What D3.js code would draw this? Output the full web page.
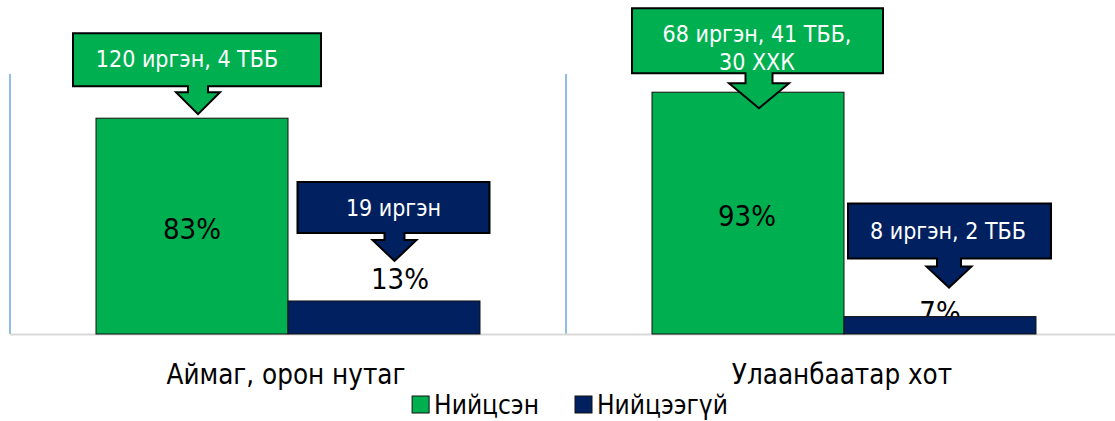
<!DOCTYPE html>
<html>
<head>
<meta charset="utf-8">
<script src="https://cdn.jsdelivr.net/npm/d3@7"></script>
<style>
  body { margin: 0; background: #fff; }
  svg text { font-family: "DejaVu Sans Condensed", "DejaVu Sans", sans-serif; font-stretch: condensed; }
</style>
</head>
<body>
<svg width="1115" height="421"></svg>
<script>
// chart values
var groups = ["Аймаг, орон нутаг", "Улаанбаатар хот"];
var series = ["Нийцсэн", "Нийцээгүй"];
var compliant = [0.83, 0.93];
var nonCompliant = [0.127, 0.067];
var compliantNotes = [["120 иргэн, 4 ТББ"], ["68 иргэн, 41 ТББ,", "30 ХХК"]];
var nonCompliantNotes = [["19 иргэн"], ["8 иргэн, 2 ТББ"]];

var colors = {"Нийцсэн": "#00B050", "Нийцээгүй": "#002060"};

var chart_data = [];
groups.forEach(function(g, i){
  chart_data.push({group: g, series: series[0], value: compliant[i], note: compliantNotes[i]});
  chart_data.push({group: g, series: series[1], value: nonCompliant[i], note: nonCompliantNotes[i]});
});

// hand placed callouts and labels (same order as chart_data)
// box: [dx from bar centre, dy from bar top, width, height], text: [dx, baseline from box top]
// arrow: [dx, shaft width, head width, shaft height, head height]
var calloutLayout = [
  {box: [-119, -85, 248, 53], text: [-5, 34], arrow: [6, 20, 44, 6, 22]},
  {box: [-86.5, -119, 192, 51], text: [9.5, 34], arrow: [10.5, 20, 44, 7, 21]},
  {box: [-116, -84, 251, 65], text: [9, 34], arrow: [11, 27, 60, 10, 25]},
  {box: [-92, -113, 203, 55], text: [8, 35], arrow: [9, 24, 45, 8, 21]}
];
var labelLayout = [
  {inside: true, dx: 0},
  {inside: false, dx: 16, dy: -12},
  {inside: true, dx: -1},
  {inside: false, dx: 0, dy: 5}
];

var svg = d3.select("svg"),
    plot = {left: 10, right: 1122, top: 74, bottom: 334};

var x0 = d3.scaleBand().domain(groups).range([plot.left, plot.right]);
var x1 = d3.scaleBand().domain(series).range([0, x0.bandwidth()])
    .paddingInner(0).paddingOuter(0.448);
var y = d3.scaleLinear().domain([0, 1]).range([plot.bottom, plot.top]);

function barX(d){ return x0(d.group) + x1(d.series); }
function barCx(d){ return barX(d) + x1.bandwidth() / 2; }

// group separators
svg.append("g").selectAll("line").data(groups.concat(["end"])).enter().append("line")
    .attr("x1", function(d, i){ return plot.left + i * x0.step(); })
    .attr("x2", function(d, i){ return plot.left + i * x0.step(); })
    .attr("y1", y(1))
    .attr("y2", y(0))
    .attr("stroke", "#4A90D9")
    .attr("stroke-width", 1.2);

svg.append("line")
    .attr("x1", plot.left).attr("x2", 1115)
    .attr("y1", y(0) + 0.5).attr("y2", y(0) + 0.5)
    .attr("stroke", "#D9D9D9")
    .attr("stroke-width", 2);

var fmt = d3.format(".0%");

// outside labels go under the bars (the 7% one is partly hidden)
svg.selectAll(".outside-label").data(chart_data).enter()
  .filter(function(d, i){ return !labelLayout[i].inside; })
  .append("text")
    .attr("class", "outside-label")
    .attr("x", function(d){ return barCx(d) + labelLayout[chart_data.indexOf(d)].dx; })
    .attr("y", function(d){ return y(d.value) + labelLayout[chart_data.indexOf(d)].dy; })
    .attr("text-anchor", "middle")
    .attr("font-size", 29)
    .attr("fill", "#000")
    .text(function(d){ return fmt(d.value); });

svg.selectAll(".bar").data(chart_data).enter().append("rect")
    .attr("class", "bar")
    .attr("x", barX)
    .attr("y", function(d){ return y(d.value); })
    .attr("width", x1.bandwidth())
    .attr("height", function(d){ return y(0) - y(d.value); })
    .attr("fill", function(d){ return colors[d.series]; })
    .attr("stroke", "#111")
    .attr("stroke-width", 1);

svg.selectAll(".inside-label").data(chart_data).enter()
  .filter(function(d, i){ return labelLayout[i].inside; })
  .append("text")
    .attr("class", "inside-label")
    .attr("x", function(d){ return barCx(d) + labelLayout[chart_data.indexOf(d)].dx; })
    .attr("y", function(d){ return (y(d.value) + y(0)) / 2; })
    .attr("dy", "0.45em")
    .attr("text-anchor", "middle")
    .attr("font-size", 29)
    .attr("fill", "#000")
    .text(function(d){ return fmt(d.value); });

// down arrow callouts
var callout = svg.selectAll(".callout").data(chart_data).enter().append("g")
    .attr("class", "callout");

callout.append("path")
    .attr("d", function(d, i){
      var L = calloutLayout[i], cx = barCx(d), top = y(d.value);
      var bl = cx + L.box[0], bt = top + L.box[1], br = bl + L.box[2], bb = bt + L.box[3];
      var ax = cx + L.arrow[0], sw = L.arrow[1] / 2, hw = L.arrow[2] / 2,
          sy = bb + L.arrow[3], ty = sy + L.arrow[4];
      var p = d3.path();
      p.moveTo(bl, bt); p.lineTo(br, bt); p.lineTo(br, bb);
      p.lineTo(ax + sw, bb); p.lineTo(ax + sw, sy); p.lineTo(ax + hw, sy);
      p.lineTo(ax, ty);
      p.lineTo(ax - hw, sy); p.lineTo(ax - sw, sy); p.lineTo(ax - sw, bb);
      p.lineTo(bl, bb); p.closePath();
      return p.toString();
    })
    .attr("fill", function(d){ return colors[d.series]; })
    .attr("stroke", "#000")
    .attr("stroke-width", 2)
    .attr("stroke-linejoin", "miter");

callout.append("text")
    .attr("text-anchor", "middle")
    .attr("font-size", 23)
    .attr("fill", "#fff")
    .attr("x", function(d, i){ return barCx(d) + calloutLayout[i].text[0]; })
    .attr("y", function(d, i){ return y(d.value) + calloutLayout[i].box[1] + calloutLayout[i].text[1]; })
    .each(function(d, i){
      var t = d3.select(this), xx = t.attr("x");
      d.note.forEach(function(line, j){
        t.append("tspan").attr("x", xx).attr("dy", j ? 28 : 0).text(line);
      });
    });

// category axis labels
svg.append("g").selectAll("text").data(groups).enter().append("text")
    .attr("x", function(d){ return x0(d) + x0.bandwidth() / 2 - 2; })
    .attr("y", 384)
    .attr("text-anchor", "middle")
    .attr("font-size", 27.5)
    .attr("fill", "#000")
    .text(function(d){ return d; });

// legend
var legend = svg.append("g");
var items = legend.selectAll("g").data(series).enter().append("g");
items.append("rect")
    .attr("width", 17).attr("height", 17)
    .attr("y", 396)
    .attr("fill", function(d){ return colors[d]; })
    .attr("stroke", "#111").attr("stroke-width", 1);
items.append("text")
    .attr("x", 22).attr("y", 414)
    .attr("font-size", 26)
    .attr("fill", "#000")
    .text(function(d){ return d; });

var offset = 0, widths = [];
items.each(function(){ widths.push(this.getBBox().width); });
var total = d3.sum(widths) + 36 * (widths.length - 1);
offset = 570 - total / 2;
items.attr("transform", function(d, i){
  var tx = offset;
  offset += widths[i] + 36;
  return "translate(" + tx + ",0)";
});
</script>
</body>
</html>
